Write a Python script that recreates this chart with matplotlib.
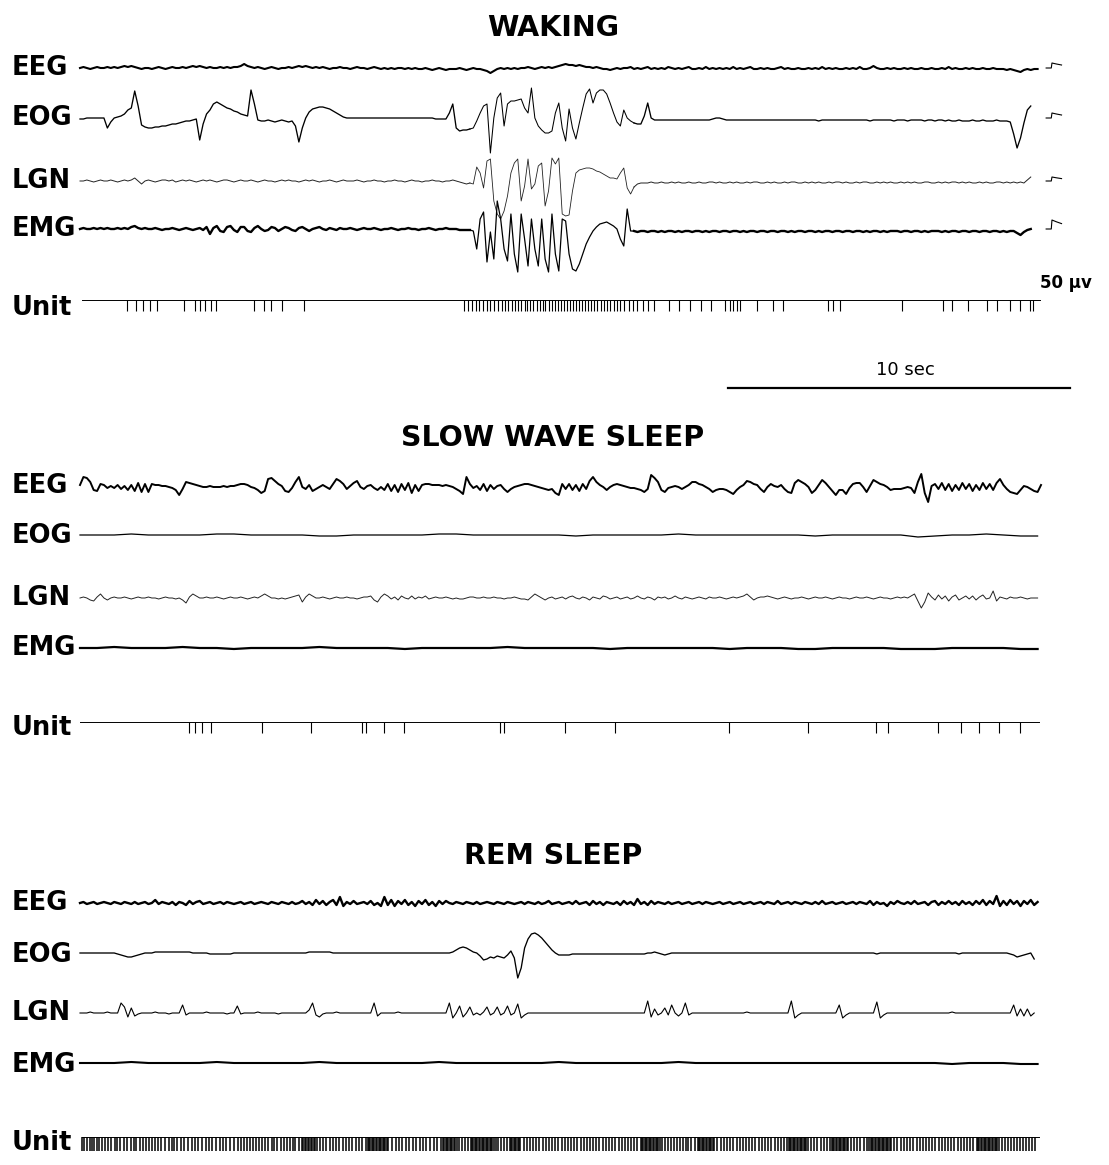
# polygraph traces: waking / slow wave sleep / REM sleep
import numpy as np
from matplotlib import pyplot as plt

W, H = 1109, 1165
PX_PER_SEC = 34.2      # 10 sec bar = 342 px
T0_PX = 80             # left end of the traces
DT = 0.1
DT_SLOW = 0.5          # sample step of the flat traces (s)

# ---------------- data (deflection in px, up = positive) ----------------
wake_eeg = [0,1,0,-1,0,1,0,0,1,0, 1,0,1,2,1,2,1,0,-1,0, 0,-1,0,1,0,-1,0,1,0,0,
            1,0,1,2,1,2,1,0,1,0, 0,1,0,1,0,1,1,2,4,2, 1,0,1,0,-1,0,1,0,-1,0,
            0,1,0,1,2,1,2,1,0,1, 0,1,0,-1,0,0,1,0,0,-1, 0,1,0,0,-1,0,1,0,-1,0,
            -1,0,-1,0,0,-1,0,-1,0,-1, -1,0,-1,-2,-1,0,-1,-2,-1,-1, -1,0,-1,-2,-1,0,-1,-1,-2,-3,
            -5,-3,-1,0,-1,0,-1,0,-1,0, 0,1,0,-1,0,1,0,1,0,1, 2,3,4,3,3,2,3,2,1,1,
            0,1,0,-1,-1,-2,-1,0,-1,0, 0,1,-1,0,-1,0,1,-1,0,-1, 0,-1,1,0,-1,0,-1,0,1,-1,
            -1,0,-1,1,-1,0,-1,0,-1,0, -1,1,-1,0,-1,0,1,-1,-1,0, -1,0,-1,-1,0,1,-1,0,-1,-1,
            0,-1,-1,0,-1,0,-1,1,-1,0, -1,0,-1,-1,0,-1,0,-1,1,-1, -1,0,2,0,-1,-1,0,-1,0,-1,
            -1,0,-1,0,-1,-1,0,-1,-1,0, -1,-1,0,-1,1,-1,0,-1,-1,0, -1,0,-1,-1,0,-1,-1,0,-1,-1,
            -1,-2,-1,-2,-3,-4,-2,-1,-2,-1, -1]
wake_eog = [-1,-1,0,0,0,0,0,0,-10,-4, 0,1,2,4,8,10,27,12,-7,-9,
            -10,-10,-9,-9,-8,-8,-7,-6,-6,-5, -4,-3,-3,-2,-1,-22,-6,4,8,14,
            16,14,12,10,9,7,6,4,3,2, 28,14,-2,-3,-3,-2,-3,-4,-3,-2,
            -3,-4,-3,-8,-24,-10,0,6,9,10, 11,11,10,9,7,5,3,1,0,0,
            0,0,0,0,0,0,0,0,0,0, 0,0,0,0,0,0,0,0,0,0,
            0,0,0,0,-1,-1,-1,-1,5,14, -10,-13,-12,-12,-11,-10,-3,5,12,14,
            -35,0,20,25,-8,14,17,17,18,19, 10,5,30,0,-8,-12,-15,-15,-13,5,
            15,-10,-23,9,-10,-21,-5,10,24,29, 15,25,28,28,24,15,5,-4,-8,8,
            0,-3,-5,-6,-6,2,15,0,-2,-2, -2,-2,-2,-2,-2,-2,-2,-2,-2,-2,
            -2,-2,-2,-2,-2,-1,0,0,-1,-2, -2,-2,-2,-2,-2,-2,-2,-2,-2,-2,
            -2,-2,-2,-2,-2,-2,-2,-2,-2,-2, -2,-2,-2,-2,-2,-2,-3,-2,-2,-2,
            -2,-2,-2,-2,-2,-2,-2,-2,-2,-2, -2,-3,-2,-2,-2,-2,-2,-2,-3,-2,
            -2,-2,-3,-2,-2,-2,-2,-3,-2,-2, -3,-2,-2,-3,-2,-3,-3,-2,-3,-3,
            -3,-2,-3,-3,-2,-3,-3,-3,-2,-3,
            -3,-3,-4,-16,-30,-20,-5,8,12]
wake_lgn = [0,0,1,0,-1,0,1,0,0,1, 0,-1,0,1,0,1,3,0,-3,0, 1,0,-1,0,1,1,0,1,-1,0,
            1,0,1,0,-1,0,1,0,1,0, -1,0,1,1,0,-1,0,1,0,0, 1,0,-1,0,1,0,0,-1,0,1,
            0,1,0,0,-1,0,1,0,1,0, -1,0,0,1,0,-1,0,1,0,0, 0,1,0,-1,0,0,1,0,0,-1,
            0,0,1,0,0,-1,0,1,0,0, -1,0,0,1,0,0,-1,0,0,1,
            0,-1,-2,-3,-2,-3,14,8,-7,20, 22,-20,-33,-38,-30,-15,8,18,22,-20,
            -5,22,-8,-3,15,18,-25,-10,23,17, 23,-33,-35,-34,-10,8,11,12,13,13,
            12,10,9,7,5,3,3,2,8,13, -7,-13,-6,-3,-2,-2,-2,-1,-2,-2,
            -1,-2,-2,-1,-2,-1,-2,-2,-1,-2, -2,-1,-2,-2,-1,-1,-2,-1,-2,-2,
            -1,-2,-1,-2,-2,-1,-2,-1,-1,-2, -2,-1,-2,-1,-2,-2,-1,-2,-1,-1,
            -2,-2,-1,-2,-1,-2,-1,-2,-2,-1, -2,-1,-1,-2,-1,-2,-2,-1,-2,-1,
            -1,-2,-2,-1,-2,-1,-2,-1,-2,-2, -1,-2,-1,-2,-1,-2,-2,-1,-1,-2,
            -2,-1,-2,-1,-2,-1,-1,-2,-1,-2, -1,-2,-2,-1,-2,-1,-2,-2,-1,-1,
            -2,-1,-2,-1,-2,-1,-2,1,4]
wake_emg = [0,1,0,0,1,0,1,0,1,0, 0,1,0,1,0,2,3,1,0,1, 0,0,1,0,-1,0,0,1,0,-1,
            0,1,0,-1,0,1,-1,2,-5,1, 3,-2,-3,2,3,-1,-3,2,2,-2, -3,1,3,0,-2,-1,2,1,-2,0,
            2,1,-1,-2,1,2,0,-2,0,1, 2,0,-1,1,0,-1,1,0,0,1, 0,-1,0,1,0,0,1,0,-1,0,
            0,1,0,-1,0,0,1,0,0,-1, 0,0,1,0,-1,0,0,1,0,0,
            0,-1,-1,-1,-1,-2,-20,10,17,-33, -3,-30,28,10,-20,-32,15,-25,-43,15,
            -10,-37,10,-20,-37,10,-30,-43,15,-25, -42,10,8,-25,-40,-42,-35,-25,-15,-8,
            -2,2,5,6,7,5,3,0,-10,-17, 20,-2,-2,-3,-2,-2,-3,-2,-2,-3,
            -2,-3,-2,-2,-3,-2,-3,-2,-2,-3, -2,-2,-3,-2,-3,-2,-2,-3,-2,-2,
            -3,-2,-2,-3,-2,-3,-2,-2,-3,-2, -2,-3,-2,-2,-3,-2,-2,-3,-2,-3,
            -2,-2,-3,-2,-2,-3,-2,-3,-2,-2, -3,-2,-2,-3,-2,-2,-3,-2,-2,-3,
            -2,-3,-2,-2,-3,-2,-3,-2,-2,-2, -3,-2,-2,-3,-2,-2,-3,-2,-3,-2,
            -2,-2,-3,-2,-3,-2,-2,-3,-2,-2, -3,-2,-2,-3,-2,-2,-3,-2,-2,-3,
            -2,-3,-2,-2,-4,-6,-3,-1,0]
wake_fast = (114, 162)   # samples written by the fast, faint pen strokes
wake_unit = [1.37, 1.64, 1.84, 2.05, 2.25, 3.04, 3.36, 3.51, 3.65, 3.83, 3.98,
             5.09, 5.38, 5.58, 5.91, 6.55,
             11.23, 11.35, 11.46, 11.57, 11.67, 11.78, 11.9, 12.0, 12.1, 12.22,
             12.33, 12.43, 12.52, 12.62, 12.71, 12.8, 12.9, 13.0, 13.08, 13.17,
             13.26, 13.35, 13.44, 13.53, 13.61, 13.7, 13.79, 13.88, 13.97, 14.06,
             14.15, 14.24, 14.33, 14.42, 14.5, 14.59, 14.68, 14.77, 14.86, 14.95,
             15.04, 15.13, 15.22, 15.31, 15.4, 15.5, 15.6, 15.7, 15.8, 15.92,
             16.04, 16.16, 16.3, 16.45, 16.6, 16.77, 17.22, 17.51, 17.84, 18.16,
             18.45, 18.86, 19.0, 19.1, 19.2, 19.3, 19.8, 20.26, 20.56, 21.87,
             22.02, 22.22, 24.04, 25.23, 25.5, 25.96, 26.52, 26.81, 27.19, 27.49,
             27.78, 27.87]
# 50 uV calibration pulses at the right end of the waking traces
cal_t = [0.0, 0.15, 0.17, 0.3, 0.45]
cal_v = [0.0, 0.0, 1.0, 0.8, 0.6]
cal_amp = [5, 5, 4, 9]   # EEG, EOG, LGN, EMG

sws_eeg = [2,10,9,5,-3,-4,3,2,-1,1, -1,2,-2,1,-3,2,-4,4,-5,3, -5,3,2,2,1,1,0,-1,-3,-8,
           -2,5,4,3,2,1,0,0,1,0, 0,0,1,0,1,1,2,3,3,2, 0,-1,-3,-6,-4,8,9,6,3,1,
           -4,-5,-1,5,10,0,-2,2,-4,-2, 0,2,0,-2,3,8,6,3,-2,1, 4,6,0,-2,1,2,-1,-3,0,-3,
           3,-4,2,-5,3,-3,4,-6,2,-4, 2,3,3,2,2,2,1,2,1,0, -2,-4,-7,10,3,-1,1,-3,3,-4,
           2,-2,1,2,-2,-5,-2,0,1,2, 3,3,2,1,0,-1,-2,-3,-2,-6, -8,3,-2,3,-3,2,-4,3,-2,6,
           10,5,2,0,-3,0,2,3,2,1, 0,-1,-1,-2,-3,-5,-2,12,9,5, -3,-5,-1,0,1,0,-2,0,2,5,
           5,3,2,0,-2,-5,-3,-2,-2,-3, -5,-7,-3,0,2,6,5,3,2,-2, -5,0,3,1,0,2,-2,-5,-6,4,
           7,5,3,0,-6,-3,2,7,4,0, -4,-8,-3,-3,-7,-1,3,4,4,0, -5,1,7,5,3,2,0,-3,-2,-2,
           -2,-1,0,-1,-6,5,13,-6,-15,1, 3,-2,4,-3,3,-4,2,-3,4,-2, 3,-4,2,-3,4,-2,3,-3,4,8,
           2,-2,-5,-6,-7,-3,1,0,-2,-4, -5,2]
sws_eog = [0,0,0,1,0,0,0,0,1,1,0,0,0,0,-1,-1,0,0,0,0,0,1,1,0,0,0,0,0,0,-1,
           0,0,0,0,0,1,0,0,0,0,0,0,0,-1,0,0,0,0,0,-2,-1,0,0,1,0,-1,-1]
sws_lgn = [0,1,0,-2,-3,1,4,0,-2,0, 1,0,0,1,0,-1,0,1,0,0, 1,0,0,-1,0,1,0,0,-1,0,
           -2,-5,1,4,2,0,0,1,0,0, 1,0,-1,0,1,0,0,1,0,-1, 0,1,0,2,4,2,0,0,-1,0,
           -1,0,1,2,3,-4,1,4,2,0, 0,1,0,-1,0,1,0,0,1,0, 0,-1,0,1,1,2,-2,-4,1,4,
           2,-1,1,-2,2,0,-1,2,-1,1, 0,2,-1,0,1,0,0,1,0,-1, 0,-1,-1,0,1,1,0,0,1,0,
           0,1,0,0,-1,0,0,1,0,-1, -1,-2,1,4,2,0,-2,0,1,-1, 0,1,-1,1,2,0,-1,1,0,-2,
           1,0,-1,2,1,-1,0,1,-1,0, 1,-1,0,2,0,-1,1,0,-2,1, 0,1,-1,0,2,0,-1,1,0,-1,
           0,1,0,-1,1,0,0,1,0,-1, 0,1,0,1,2,4,1,-2,0,1, 1,2,1,0,-1,0,1,0,-1,0,
           0,1,0,-1,0,1,0,0,1,0, -1,0,1,0,0,-1,0,1,0,0, 1,0,-1,0,1,0,0,-1,0,1,
           0,1,0,2,4,-3,-10,-4,5,1, -2,3,-1,2,-3,1,3,-2,0,2, -1,2,-2,1,3,-1,0,7,-3,1,
           0,-1,1,0,0,1,0,-1,0,0, 0]
sws_emg = [0,0,1,0,0,0,1,0,0,-1,0,0,0,0,1,0,0,0,0,-1,0,0,0,0,0,1,0,0,0,0,
           0,-1,0,0,0,0,0,0,-1,0,0,0,-1,-1,0,0,0,0,-1,-1,-1,0,0,0,0,-1,-1]
sws_unit = [3.19, 3.36, 3.57, 3.83, 5.32, 6.75, 8.25, 8.36, 8.89, 9.47, 12.28, 12.40,
            14.18, 15.64, 18.98, 21.29, 23.27, 23.63, 25.09, 25.76, 26.29, 26.87, 27.49]

rem_eeg = [0,1,-1,0,1,-1,0,1,0,-1, 1,0,-1,1,0,-1,1,-1,0,1, -1,0,3,-1,1,0,-1,1,-2,1,
           0,-2,2,-1,1,2,-1,0,1,-1, 0,1,-1,1,0,-1,0,1,-1,0, 1,-1,0,1,0,-1,1,0,-1,1,
           0,-1,1,-1,0,2,-1,1,-2,3, -1,2,-2,1,3,-2,6,-3,1,-1, 2,-1,0,1,-1,2,-2,0,-3,6,
           -2,3,-3,2,-1,3,-2,1,-3,2, -1,3,-2,1,-3,2,-1,2,0,-1, 1,0,-1,1,0,-1,1,-1,0,1,
           0,-1,1,0,-1,1,0,-1,0,1, -1,1,0,-1,1,-1,0,2,-1,0, 1,-1,0,1,-1,2,-1,0,1,-2,
           2,-1,1,-2,1,0,-1,1,-2,2, -1,1,-2,4,-1,1,-2,2,-1,1, 0,-1,1,-1,0,1,-1,0,1,-1,
           0,1,-1,1,0,-1,0,1,-1,0, 1,-1,0,1,-1,0,1,-1,0,1, -1,1,0,-1,2,-1,0,1,-1,1,
           0,-1,1,0,-1,1,-1,2,-1,0, 1,-1,0,1,-1,0,1,-1,1,0, -1,2,-2,1,-1,0,-3,1,-1,2,
           0,-1,1,-1,2,-1,0,1,-2,1, 2,-2,1,-1,2,-1,1,-2,2,-1, 1,-2,2,-1,3,-2,2,-1,7,-3,
           2,-2,3,-1,2,-3,2,-1,3,-2, 1]
rem_eog = [0,0,0,0,0,0,0,0,0,0, 0,-1,-2,-3,-4,-4,-3,-2,-1,0, 0,0,1,1,1,1,1,1,1,1,
           1,1,1,0,0,0,0,0,-1,-1, -1,-1,-1,-1,-1,0,0,0,0,0, 0,0,0,0,0,0,0,0,0,0,
           0,0,0,0,0,0,0,1,1,1, 1,1,1,1,0,0,0,0,0,0, 0,0,0,0,0,0,0,0,0,0,
           0,0,0,0,0,0,0,0,0,0, 0,0,0,0,0,0,0,0,0,1, 3,5,6,5,3,1,0,-3,-7,-6,
           -4,-5,-3,-4,-5,-2,2,-5,-25,-15, 5,14,19,20,18,15,11,7,3,0, -2,-2,-2,-2,-1,-1,-1,-1,-1,-1,
           -1,-1,-1,-1,-1,-1,-1,-1,-1,-1, -1,-1,-1,-1,-1,-1,0,0,1,0, -1,-2,-1,0,0,0,0,0,0,0,
           0,0,0,0,0,0,0,0,0,0, 0,0,0,0,0,0,0,0,0,0, 0,0,0,0,0,0,0,0,0,0,
           0,0,0,0,0,0,0,0,0,0, 0,0,0,0,0,0,0,0,0,0, 0,0,0,-1,0,0,0,0,0,0,
           0,0,0,0,0,0,0,0,0,0, 0,0,0,0,0,0,0,-1,0,0, 0,0,0,0,0,0,0,0,0,0,
           0,0,-1,-2,-4,-3,-2,-1,0,-6]
rem_lgn = [0,0,0,1,0,0,0,0,1,0, 0,0,10,6,-4,5,-3,-1,0,0, 0,0,1,0,0,0,-1,0,0,0,
           8,-2,0,0,0,0,0,1,0,0, 0,0,0,-1,0,0,7,-1,0,0, 0,0,1,0,0,0,0,0,-1,0,
           0,0,0,0,0,0,0,3,10,-2, -4,-1,0,0,0,1,0,0,0,0, 0,0,0,0,0,0,10,-3,0,0,
           0,0,0,1,0,0,0,0,0,0, 0,0,0,0,0,0,0,0,10,-5, 0,7,-4,0,6,-2,0,-2,1,6,
           -2,0,6,-2,0,7,-2,0,9,-5, -2,0,0,0,0,0,0,0,0,0, 0,0,0,0,0,0,0,0,0,0,
           0,0,0,0,0,0,0,0,0,0, 0,0,0,0,0,0,12,-4,4,-2, 0,5,-2,8,0,-3,0,10,-2,0,
           0,0,0,0,0,0,0,0,0,0, 0,0,0,0,0,1,0,0,0,0, 0,0,0,0,0,0,0,0,12,-5,
           -2,0,0,0,0,0,0,0,0,0, 0,0,8,-5,-2,0,0,0,0,0, 0,0,0,11,-5,-2,0,0,0,0,
           0,0,0,0,0,0,0,0,0,0, 0,0,0,0,0,1,0,0,0,0, 0,0,0,0,0,0,0,0,0,0,
           0,0,0,8,-3,4,-3,4,-3,0]
rem_emg = [0,0,0,1,0,0,0,0,1,0,0,0,0,0,1,0,0,0,0,0,0,1,0,0,0,0,0,0,1,0,
           0,0,0,0,0,1,0,0,0,0,0,0,0,0,0,0,0,0,0,0,0,-1,0,0,0,-1,-1]
# inter-spike intervals of the REM unit (1/100 s), first spike at 0.06 s
rem_isi = [7,7,8,7,7,8,7,8,9,8, 10,9,8,9,10,9,11,9,8,9, 10,9,9,8,10,9,9,11,10,9,
           8,9,10,9,11,12,10,9,10,11, 10,9,12,10,11,9,10,12,11,10, 9,8,9,10,8,9,8,9,10,9,
           8,9,10,9,8,9,9,8,9,10,
           4,4,5,4,4,5,4,4,5,4,
           9,10,9,10,9,10,9,10,9,10,9,10,9,10,12,
           4,4,4,4,4,4,4,4,4,4,4,4,4,4,4,5,
           10,11,10,9,10,11,10,10,11,9,10,11,10,11,12,
           4,4,4,4,4,4,4,4,4,4,4,
           8,8,9,8,8,
           4,4,4,4,4,4,4,4,4,4,4,4,4,4,4,4,4,5,
           8,8,8,9,8,
           4,4,4,4,4,4,4,4,
           9,9,10,9,9,9,10,9,9,9, 10,9,9,9,10,9,9,9,10,9, 9,9,10,9,9,9,10,9,9,9,
           10,9,9,9,10,9,9,9,
           4,4,4,4,4,4,4,4,4,4,4,4,4,4,6,
           9,9,8,9,9,8,9,9,8,9,9,9,
           4,4,4,4,4,4,4,4,4,4,4,5,
           9,9,10,9,9,9,10,9,9,9, 10,9,9,9,10,9,9,9,10,9, 9,9,10,
           4,4,4,4,4,4,4,4,4,4,4,4,4,4,5,
           9,9,9,10,9,9,10,
           4,4,4,4,4,4,4,4,4,4,4,4,4,
           9,9,9,9,9,9,8,
           4,4,4,4,4,4,4,4,4,4,4,4,4,4,4,4,
           9,9,10,9,9,9,10,9,9,9, 10,9,9,9,10,9,9,9,10,9, 9,9,10,9,9,9,10,
           4,4,4,4,4,4,4,4,4,4,4,4,4,4,4,4,
           9,9,9,9,9,9,9,9,9,9,9,8]

channels = ['EEG', 'EOG', 'LGN', 'EMG', 'Unit']
stages = ['WAKING', 'SLOW WAVE SLEEP', 'REM SLEEP']

# ---------------- layout (figure pixel rows) ----------------
title_y = [28, 438, 856]
base_y = [[68, 118, 181, 229, 300],
          [487, 535, 598, 648, 722],
          [903, 953, 1013, 1063, 1137]]
label_y = [[68, 118, 181, 229, 308],
           [486, 536, 598, 648, 728],
           [903, 955, 1013, 1065, 1143]]
unit_tick = [11, 11, 14]
unit_span = [(0.06, 28.07), (0.0, 28.05), (0.06, 28.05)]

fig = plt.figure(figsize=(W / 100, H / 100), dpi=100)
ax = fig.add_axes([0, 0, 1, 1])
ax.set_xlim(-T0_PX / PX_PER_SEC, (W - T0_PX) / PX_PER_SEC)
ax.set_ylim(H, 0)
ax.axis('off')


def px2t(x):
    return (x - T0_PX) / PX_PER_SEC


def trace(vals, base, dt=DT, lw=1.0, color='k', fast=None, fast_lw=0.7):
    v = base - np.asarray(vals, dtype=float)
    t = np.arange(len(v)) * dt
    if fast is None:
        ax.plot(t, v, color=color, lw=lw, solid_joinstyle='round')
        return
    a, b = fast
    ax.plot(t[:a + 1], v[:a + 1], color=color, lw=lw, solid_joinstyle='round')
    ax.plot(t[a:b + 1], v[a:b + 1], color=color, lw=fast_lw, solid_joinstyle='round')
    ax.plot(t[b:], v[b:], color=color, lw=lw, solid_joinstyle='round')


def unit(times, base, tick, span, lw=0.8):
    ax.plot(span, [base, base], color='k', lw=0.7)
    ax.vlines(times, base, base + tick, color='k', lw=lw)


# waking
b = base_y[0]
trace(wake_eeg, b[0], lw=1.5)
trace(wake_eog, b[1], lw=0.95, fast=wake_fast, fast_lw=0.75)
trace(wake_lgn, b[2], lw=0.7, color='#222222', fast=wake_fast, fast_lw=0.6)
trace(wake_emg, b[3], lw=1.7, fast=wake_fast, fast_lw=0.9)
unit(wake_unit, b[4], unit_tick[0], unit_span[0])
for yb, a in zip(b[:4], cal_amp):
    ax.plot(28.25 + np.array(cal_t), yb - a * np.array(cal_v), color='k', lw=0.8)

# slow wave sleep
b = base_y[1]
trace(sws_eeg, b[0], lw=1.4)
trace(sws_eog, b[1], dt=DT_SLOW, lw=0.9)
trace(sws_lgn, b[2], lw=0.7, color='#222222')
trace(sws_emg, b[3], dt=DT_SLOW, lw=1.6)
unit(sws_unit, b[4], unit_tick[1], unit_span[1])

# REM sleep
b = base_y[2]
trace(rem_eeg, b[0], lw=1.7)
trace(rem_eog, b[1], lw=0.95)
trace(rem_lgn, b[2], lw=0.8)
trace(rem_emg, b[3], dt=DT_SLOW, lw=1.5)
rem_times = 0.06 + np.cumsum([0] + rem_isi) / 100.0
unit(rem_times, b[4], unit_tick[2], unit_span[2], lw=1.1)

# texts
for s, ty in zip(stages, title_y):
    ax.text(px2t(553), ty, s, ha='center', va='center', fontsize=20.5,
            fontweight='bold', family='DejaVu Sans')
for ys in label_y:
    for name, yy in zip(channels, ys):
        ax.text(px2t(12), yy, name, ha='left', va='center', fontsize=18.5,
                fontweight='bold', family='DejaVu Sans')

ax.text(px2t(1040), 283, '50 \u00b5v', ha='left', va='center', fontsize=12,
        fontweight='bold', family='DejaVu Sans')
bar_start = px2t(728)
ax.plot([bar_start, bar_start + 10], [388, 388], color='k', lw=1.6)
ax.text(px2t(905), 370, '10 sec', ha='center', va='center', fontsize=13,
        family='DejaVu Sans')

fig.savefig('out.png', dpi=100, facecolor='white')
